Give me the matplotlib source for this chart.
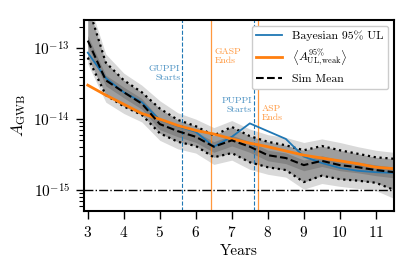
import numpy as np
from matplotlib import pyplot as plt

plt.rcParams['font.family'] = 'serif'
plt.rcParams['font.serif'] = ['cmr10', 'DejaVu Serif']
plt.rcParams['mathtext.fontset'] = 'cm'
plt.rcParams['axes.formatter.use_mathtext'] = True

# years of data
years = [3.0, 3.5, 4.0, 4.5, 5.0, 5.5, 6.0, 6.5, 7.0, 7.5,
         8.0, 8.5, 9.0, 9.5, 10.0, 10.5, 11.0, 11.5]

# log10 of amplitudes
log_bayes = [-13.06, -13.42, -13.62, -13.76, -14.01, -14.10, -14.18, -14.39, -14.25, -14.06,
             -14.17, -14.28, -14.53, -14.62, -14.69, -14.73, -14.75, -14.76]
log_weak = [-13.52, -13.66, -13.79, -13.92, -14.00, -14.09, -14.16, -14.21, -14.28, -14.34,
            -14.39, -14.45, -14.51, -14.55, -14.59, -14.63, -14.68, -14.70]
log_mean = [-12.89, -13.45, -13.62, -13.78, -14.07, -14.17, -14.25, -14.39, -14.30, -14.39,
            -14.51, -14.55, -14.65, -14.59, -14.65, -14.68, -14.72, -14.75]
log_hi = [-12.39, -13.20, -13.45, -13.62, -13.85, -14.01, -14.10, -14.23, -14.11, -14.24,
          -14.32, -14.37, -14.44, -14.38, -14.44, -14.49, -14.54, -14.56]
log_lo = [-13.13, -13.66, -13.82, -13.94, -14.20, -14.32, -14.38, -14.54, -14.48, -14.61,
          -14.68, -14.72, -14.89, -14.80, -14.85, -14.87, -14.90, -15.00]
# extent of the simulation curves
log_env_hi = [-12.30, -13.08, -13.35, -13.52, -13.74, -13.91, -14.00, -14.12, -14.02, -14.14,
              -14.22, -14.26, -14.33, -14.28, -14.33, -14.39, -14.44, -14.47]
log_env_lo = [-13.22, -13.76, -13.92, -14.04, -14.30, -14.42, -14.48, -14.64, -14.58, -14.71,
              -14.78, -14.82, -14.99, -14.91, -14.95, -14.98, -15.01, -15.12]

# backend changes
guppi_start = 5.61
gasp_end = 6.43
puppi_start = 7.63
asp_end = 7.73

x = np.array(years)
p = lambda v: 10**np.array(v)

fig = plt.figure(figsize=(4.15, 2.72), dpi=100)
ax = fig.add_axes([0.202, 0.224, 0.747, 0.702])

ax.fill_between(x, p(log_env_lo), p(log_env_hi), color='0.85', lw=0)
ax.fill_between(x, p(log_lo), p(log_hi), color='0.62', lw=0)
ax.fill_between(x, p(log_mean) * 1.18, p(log_mean) / 1.2, color='0.45', alpha=0.6, lw=0)

ax.axvline(guppi_start, color='C0', ls='--', lw=0.8)
ax.axvline(gasp_end, color='C1', lw=0.9, alpha=0.8)
ax.axvline(puppi_start, color='C0', ls='--', lw=0.8)
ax.axvline(asp_end, color='C1', lw=0.9, alpha=0.8)
ax.axhline(1e-15, color='k', ls='-.', lw=1.0)

ax.plot(x, p(log_hi), 'k:', lw=1.6)
ax.plot(x, p(log_lo), 'k:', lw=1.6)
ax.plot(x, p(log_bayes), color='C0', lw=1.3, label='Bayesian 95% UL')
ax.plot(x, p(log_weak), color='C1', lw=2.0,
        label=r'$\left\langle A^{95\%}_{\rm UL, weak}\right\rangle$')
ax.plot(x, p(log_mean), 'k--', lw=1.5, label='Sim Mean')

ax.text(5.57, 10**-13.35, 'GUPPI\nStarts', color='C0', alpha=0.8, fontsize=7,
        ha='right', va='center', linespacing=1.1)
ax.text(6.52, 10**-13.11, 'GASP\nEnds', color='C1', alpha=0.8, fontsize=7,
        ha='left', va='center', linespacing=1.1)
ax.text(7.56, 10**-13.80, 'PUPPI\nStarts', color='C0', alpha=0.8, fontsize=7,
        ha='right', va='center', linespacing=1.1)
ax.text(7.82, 10**-13.92, 'ASP\nEnds', color='C1', alpha=0.8, fontsize=7,
        ha='left', va='center', linespacing=1.1)

ax.set_yscale('log')
ax.set_xlim(2.89, 11.5)
ax.set_ylim(10**-15.3, 10**-12.6)
ax.set_yticks([1e-15, 1e-14, 1e-13])
ax.set_xticks([3, 4, 5, 6, 7, 8, 9, 10, 11])
ax.set_xlabel('Years', fontsize=11, labelpad=3)
ax.set_ylabel(r'$A_{\rm GWB}$', fontsize=12, labelpad=4)
ax.tick_params(labelsize=11, width=1, length=6, pad=4)
ax.tick_params(which='minor', length=3.5, width=0.8)
for s in ax.spines.values():
    s.set_linewidth(1.5)

ax.legend(loc='upper right', fontsize=8.5, handlelength=2.2, framealpha=1)

plt.savefig('out.png', dpi=100)
